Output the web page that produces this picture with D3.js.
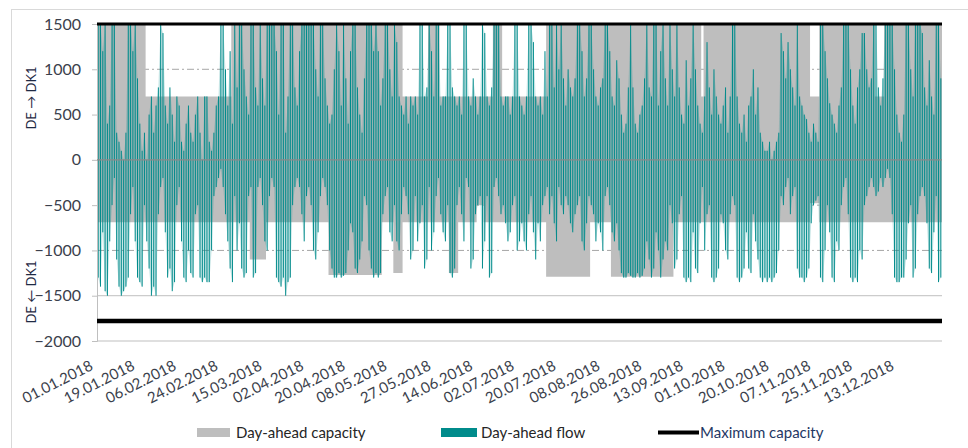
<!DOCTYPE html>
<html><head><meta charset="utf-8">
<script src="https://cdn.jsdelivr.net/npm/d3@7"></script>
<style>body{margin:0;background:#fff}svg{display:block}text{font-family:Lato,"Open Sans",sans-serif}</style>
</head><body><svg id="c" width="968" height="448"></svg>
<script>
// ---- data (daily peaks, MW) ----
const flowExport = [
1500,1500,1200,1500,400,600,1500,1500,300,200,100,0,300,1500,1500,1200,1500,900,400,100,
300,0,500,700,300,600,800,1500,1400,600,400,800,500,200,700,600,200,100,400,600,
300,200,500,700,300,0,700,700,200,100,300,600,700,1500,1500,1000,600,1200,400,1500,
800,1500,1500,1000,700,500,1500,1500,800,600,1500,900,600,1500,1500,1500,1500,1200,500,1500,
1500,300,700,1500,1500,800,600,1200,1500,1500,1500,1500,1500,1500,1000,700,1500,1500,900,600,
400,500,1000,1500,1200,600,1500,900,400,1200,1500,1500,800,500,300,900,1500,1500,1500,1200,
1500,1200,600,900,1500,1500,1000,700,1500,1300,700,600,500,700,400,700,600,700,500,1500,
1500,700,800,1500,1200,700,1500,1500,600,700,700,1500,1500,800,700,600,700,500,1500,1500,
700,600,900,700,500,700,1500,1400,700,600,800,1500,1500,1500,700,600,700,700,500,700,
1500,1500,700,600,500,700,1500,1500,1300,700,
600,700,500,1200,700,1500,1500,800,1500,1000,1500,900,600,1000,800,700,900,1500,1500,1200,
700,900,1500,1500,1000,700,600,800,900,1500,1500,1200,700,600,1100,900,500,300,400,800,
1500,800,400,300,500,600,900,1500,800,700,1500,1500,600,1200,1500,900,600,1500,1000,700,
1500,800,500,400,1100,600,900,1500,1000,600,400,300,700,1300,800,500,1000,700,500,400,
600,800,300,700,1500,1500,700,400,300,500,200,600,700,1000,500,800,300,200,100,100,
200,0,100,200,300,1400,1200,900,1300,1000,800,600,1500,700,600,500,450,300,200,400,
300,200,1500,1500,1200,900,625,500,400,300,600,800,1500,1500,1500,1000,600,400,800,1000,
1400,1400,1000,800,900,1500,1500,800,600,900,1500,1500,1500,1500,1000,500,300,200,500,1500,
1500,1000,700,1500,1500,1500,1400,800,600,1100,700,500,1500,1500,900];
const flowImport = [
-1300,-1400,-800,-1450,-1500,-900,-500,-200,-1100,-1400,-1500,-1450,-1400,-1300,-600,-300,-900,-1300,-1350,-1400,
-500,-900,-1200,-1500,-1400,-1500,-600,-300,-200,-800,-1300,-1200,-1450,-1350,-500,-300,-900,-1300,-1350,-1000,
-1250,-1300,-600,-500,-1300,-1350,-1300,-1350,-1350,-1000,-400,-300,-200,-100,-300,-600,-900,-1200,-1350,-400,
-1000,-700,-1200,-1300,-1250,-400,-300,-1300,-1250,-300,-200,-500,-900,-1000,-400,-200,-300,-1300,-1350,-1400,
-1300,-1500,-1350,-1300,-500,-300,-200,-300,-600,-900,-400,-300,-500,-1000,-1100,-800,-400,-200,-300,-500,
-1000,-1200,-1300,-1300,-1250,-1300,-1280,-1250,-1000,-700,-800,-1200,-1250,-1100,-900,-400,-500,-1000,-1200,-1300,
-1250,-1300,-1250,-600,-400,-300,-800,-900,-500,-900,-1000,-600,-300,-400,-600,-1100,-1000,-400,-900,-700,
-500,-1200,-1100,-300,-1000,-800,-400,-200,-600,-800,-900,-500,-1250,-1300,-1200,-500,-300,-600,-900,-200,
-300,-1200,-1100,-600,-500,-400,-1200,-900,-400,-1300,-1250,-300,-200,-400,-600,-500,-700,-900,-800,-500,
-400,-1000,-900,-700,-900,-1000,-600,-400,-800,-1100,
-700,-900,-500,-400,-300,-600,-400,-700,-900,-300,-500,-600,-400,-500,-700,-800,-600,-500,-400,-900,
-1000,-700,-400,-500,-600,-900,-700,-800,-1000,-400,-300,-500,-800,-900,-700,-1000,-1250,-1300,-1300,-1250,
-1280,-1300,-1300,-1250,-1300,-1280,-1200,-900,-1100,-1300,-1200,-800,-1000,-1300,-1100,-900,-1000,-500,-700,-1200,
-1100,-600,-400,-1300,-1350,-1300,-1350,-800,-1200,-1250,-700,-300,-1000,-600,-500,-1300,-1350,-1300,-1200,-600,
-700,-1000,-1100,-600,-400,-500,-1300,-1350,-1300,-1200,-800,-1200,-1250,-600,-900,-1100,-1300,-1350,-1300,-1350,
-1300,-1350,-1300,-1250,-1000,-400,-500,-300,-200,-600,-400,-300,-1200,-1300,-1300,-1350,-1300,-1200,-700,-500,
-450,-400,-1300,-1350,-1000,-500,-800,-1300,-1350,-900,-1000,-500,-300,-200,-600,-1300,-1350,-1300,-1350,-1000,
-1100,-500,-400,-300,-200,-300,-400,-350,-200,-300,-200,-100,-200,-600,-1300,-1350,-1350,-1300,-1300,-1100,
-700,-500,-1300,-1200,-600,-400,-300,-400,-700,-1200,-1250,-800,-400,-1350,-1300];
// capacity: value valid from the given date on
const capExportSteps = [["01.01.2018",1500],["22.01.2018",700],["28.02.2018",1500],["13.05.2018",700],
  ["24.05.2018",1500],["29.05.2018",700],["21.06.2018",1500],["25.06.2018",700],["14.07.2018",1500],
  ["19.09.2018",700],["20.09.2018",1500],["05.11.2018",700],["09.11.2018",1500],["03.12.2018",700],["07.12.2018",1500]];
const capImportSteps = [["01.01.2018",-690],["08.03.2018",-1100],["15.03.2018",-690],["11.04.2018",-1270],
  ["04.05.2018",-690],["09.05.2018",-1250],["13.05.2018",-690],["02.06.2018",-1250],["06.06.2018",-690],
  ["14.06.2018",-500],["17.06.2018",-690],["14.07.2018",-1290],["02.08.2018",-690],["11.08.2018",-1290],
  ["07.09.2018",-690],["05.11.2018",-480],["09.11.2018",-690]];
const maxCapExport = 1500, maxCapImport = -1780;
const yTicks = [1500,1000,500,0,-500,-1000,-1500,-2000];
const xTickLabels = ["01.01.2018","19.01.2018","06.02.2018","24.02.2018","15.03.2018","02.04.2018","20.04.2018",
  "08.05.2018","27.05.2018","14.06.2018","02.07.2018","20.07.2018","08.08.2018","26.08.2018","13.09.2018",
  "01.10.2018","20.10.2018","07.11.2018","25.11.2018","13.12.2018"];
const legendItems = ["Day-ahead capacity","Day-ahead flow","Maximum capacity"];
const sideLabels = ["DE \u2192 DK1","DE \u2190 DK1"];

// ---- drawing ----
const svg = d3.select("#c");
const parse = d3.utcParse("%d.%m.%Y");
const t0 = Date.UTC(2018,0,1), t1 = Date.UTC(2019,0,1), DAY = 864e5;
const x = d3.scaleUtc().domain([t0,t1]).range([97,942]);
const y = d3.scaleLinear().domain([-2000,1500]).range([341,24]);
const dayDate = i => new Date(t0 + i*DAY);
const stepVal = (steps,dt) => { let v = steps[0][1]; for (const s of steps) if (parse(s[0]) <= dt) v = s[1]; return v; };

svg.append("rect").attr("x",11.5).attr("y",9.5).attr("width",990).attr("height",460)
  .attr("fill","none").attr("stroke","#d9d9d9");

// gridlines
const grid = svg.append("g");
[1000,500,-500,-1000].forEach(v => grid.append("line").attr("x1",97).attr("x2",942)
  .attr("y1",y(v)).attr("y2",y(v)).attr("stroke","#a6a6a6").attr("stroke-dasharray","7,3,2,3"));
grid.append("line").attr("x1",97).attr("x2",942).attr("y1",y(-1500)).attr("y2",y(-1500)).attr("stroke","#bfbfbf");

// capacity band
const days = d3.range(366);
const capData = days.map(i => ({d: dayDate(i), hi: stepVal(capExportSteps, dayDate(Math.min(i,364))), lo: stepVal(capImportSteps, dayDate(Math.min(i,364)))}));
svg.append("path").datum(capData).attr("fill","#bebebe")
  .attr("d", d3.area().x(d=>x(d.d)).y0(d=>y(d.lo)).y1(d=>y(d.hi)).curve(d3.curveStepAfter));

// flow
const fl = flowExport.map((v,i)=>({i, d: new Date(t0+(i+0.5)*DAY), p: v, n: flowImport[i]}));
const teal = "#008b8b";
const g = svg.append("g");
g.append("path").datum(fl).attr("fill",teal).attr("fill-opacity",0.22)
  .attr("d", d3.area().x(d=>x(d.d)).y0(y(0)).y1(d=>y(d.p)));
g.append("path").datum(fl).attr("fill",teal).attr("fill-opacity",0.22)
  .attr("d", d3.area().x(d=>x(d.d)).y0(y(0)).y1(d=>y(d.n)));
g.selectAll("rect").data(fl).join("rect")
  .attr("x", d => x(d.d) - 0.5).attr("width", 1.0)
  .attr("y", d => y(d.p)).attr("height", d => y(d.n) - y(d.p))
  .attr("fill", teal);

// axes
const ya = svg.append("g").attr("transform","translate(97,0)")
  .call(d3.axisLeft(y).tickValues(yTicks).tickSize(5).tickPadding(11).tickFormat(d3.format("d")));
ya.select(".domain").attr("stroke","#bfbfbf");
ya.selectAll(".tick line").attr("stroke","#bfbfbf");
ya.selectAll("text").attr("font-size",16).attr("fill","#3b3f4c").attr("font-family","Lato");
svg.append("line").attr("x1",97).attr("x2",942).attr("y1",y(-2000)).attr("y2",y(-2000)).attr("stroke","#bfbfbf");
svg.append("line").attr("x1",97).attr("x2",942).attr("y1",y(0)).attr("y2",y(0)).attr("stroke","#8a8a8a").attr("stroke-width",1.2);

// max capacity
svg.append("line").attr("x1",97).attr("x2",942).attr("y1",y(maxCapExport)).attr("y2",y(maxCapExport)).attr("stroke","#000").attr("stroke-width",3.2);
svg.append("line").attr("x1",97).attr("x2",942).attr("y1",y(maxCapImport)).attr("y2",y(maxCapImport)).attr("stroke","#000").attr("stroke-width",4.5);

// x labels
svg.append("g").selectAll("text").data(xTickLabels).join("text")
  .attr("transform", d => `translate(${x(parse(d))-3},369) rotate(-27)`)
  .attr("text-anchor","end").attr("font-size",15).attr("fill","#3b3f4c").text(d=>d);

// side labels
[[sideLabels[0],98],[sideLabels[1],292]].forEach(([t,cy]) => svg.append("text")
  .attr("transform",`translate(36,${cy}) rotate(-90)`).attr("text-anchor","middle")
  .attr("font-size",13).attr("fill","#1f2a44").text(t));

// legend
const lg = svg.append("g");
lg.append("rect").attr("x",197).attr("y",428).attr("width",33).attr("height",9).attr("fill","#bebebe");
lg.append("text").attr("x",236).attr("y",438).attr("font-size",15).attr("fill","#262626").text(legendItems[0]);
lg.append("rect").attr("x",441).attr("y",428).attr("width",36).attr("height",9).attr("fill",teal);
lg.append("text").attr("x",481).attr("y",438).attr("font-size",15).attr("fill","#262626").text(legendItems[1]);
lg.append("line").attr("x1",658).attr("x2",699).attr("y1",432.5).attr("y2",432.5).attr("stroke","#000").attr("stroke-width",4);
lg.append("text").attr("x",700).attr("y",438).attr("font-size",15).attr("fill","#1f3864").text(legendItems[2]);
</script></body></html>
